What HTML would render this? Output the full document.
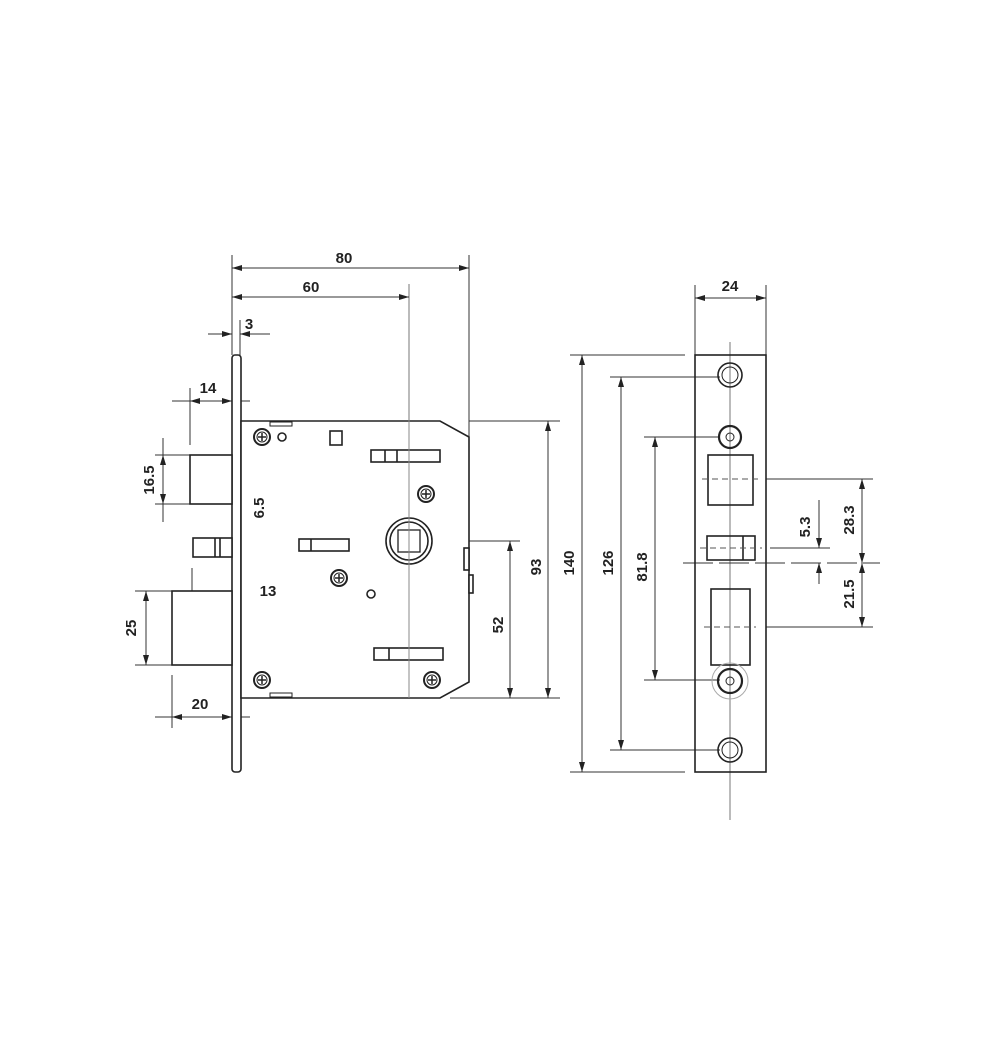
<!DOCTYPE html>
<html><head><meta charset="utf-8"><style>
html,body{margin:0;padding:0;background:#fff}
svg{display:block}
text{font-family:"Liberation Sans",Arial,sans-serif;font-weight:bold;font-size:15px;fill:#222}
</style></head><body>
<svg width="1000" height="1052" viewBox="0 0 1000 1052" xmlns="http://www.w3.org/2000/svg">
<defs>
<marker id="a" viewBox="0 0 10 6" refX="10" refY="3" markerWidth="10" markerHeight="6" orient="auto-start-reverse" markerUnits="userSpaceOnUse"><path d="M0,0L10,3L0,6z" fill="#222"/></marker>
<g id="scr"><circle r="8" fill="#fff" stroke="#222" stroke-width="2"/><circle r="5" fill="none" stroke="#222" stroke-width="1"/><path d="M-4,0H4M0,-4V4" stroke="#222" stroke-width="1.5"/></g>
</defs>
<g stroke="#333" stroke-width="1" fill="none">
<!-- extension lines left view -->
<line x1="232" y1="255" x2="232" y2="355"/>
<line x1="240" y1="320" x2="240" y2="355"/>
<line x1="469" y1="255" x2="469" y2="437"/>
<line x1="409" y1="284" x2="409" y2="698" stroke="#777"/>
<!-- dimension lines -->
<line x1="232" y1="268" x2="469" y2="268" marker-start="url(#a)" marker-end="url(#a)"/>
<line x1="232" y1="297" x2="409" y2="297" marker-start="url(#a)" marker-end="url(#a)"/>
<line x1="208" y1="334" x2="232" y2="334" marker-end="url(#a)"/>
<line x1="270" y1="334" x2="240" y2="334" marker-end="url(#a)"/>
<line x1="172" y1="401" x2="250" y2="401"/>
<line x1="190" y1="401" x2="232" y2="401" marker-start="url(#a)" marker-end="url(#a)"/>
<line x1="190" y1="388" x2="190" y2="445"/>
<line x1="155" y1="455" x2="190" y2="455"/>
<line x1="155" y1="504" x2="190" y2="504"/>
<line x1="163" y1="438" x2="163" y2="522"/>
<line x1="163" y1="455" x2="163" y2="504" marker-start="url(#a)" marker-end="url(#a)"/>
<line x1="232" y1="538" x2="280" y2="538"/>
<line x1="232" y1="557" x2="280" y2="557"/>
<line x1="268" y1="487" x2="268" y2="538" marker-end="url(#a)"/>
<line x1="268" y1="577" x2="268" y2="557" marker-end="url(#a)"/>
<line x1="172" y1="601" x2="280" y2="601"/>
<line x1="192" y1="568" x2="192" y2="612"/>
<line x1="135" y1="591" x2="172" y2="591"/>
<line x1="135" y1="665" x2="172" y2="665"/>
<line x1="146" y1="591" x2="146" y2="665" marker-start="url(#a)" marker-end="url(#a)"/>
<line x1="172" y1="675" x2="172" y2="728"/>
<line x1="155" y1="717" x2="250" y2="717"/>
<line x1="172" y1="717" x2="232" y2="717" marker-start="url(#a)" marker-end="url(#a)"/>
<line x1="469" y1="421" x2="560" y2="421"/>
<line x1="450" y1="698" x2="560" y2="698"/>
<line x1="430" y1="541" x2="520" y2="541"/>
<line x1="548" y1="421" x2="548" y2="698" marker-start="url(#a)" marker-end="url(#a)"/>
<line x1="510" y1="541" x2="510" y2="698" marker-start="url(#a)" marker-end="url(#a)"/>
</g>
<!-- lock body -->
<g stroke="#222" stroke-width="1.6" fill="#fff">
<rect x="232" y="355" width="9" height="417" rx="3"/>
<path d="M241,421H440L469,437V682L440,698H241Z"/>
<rect x="190" y="455" width="42" height="49"/>
<rect x="193" y="538" width="39" height="19"/>
<line x1="215" y1="538" x2="215" y2="557"/><line x1="220" y1="538" x2="220" y2="557"/>
<rect x="172" y="591" width="60" height="74"/>
<rect x="270" y="422" width="22" height="4" stroke-width="1"/>
<rect x="270" y="693" width="22" height="4" stroke-width="1"/>
<rect x="371" y="450" width="69" height="12"/><line x1="385" y1="450" x2="385" y2="462"/><line x1="397" y1="450" x2="397" y2="462"/>
<rect x="299" y="539" width="50" height="12"/><line x1="311" y1="539" x2="311" y2="551"/>
<rect x="374" y="648" width="69" height="12"/><line x1="389" y1="648" x2="389" y2="660"/>
<rect x="330" y="431" width="12" height="14"/>
<rect x="464" y="548" width="5" height="22"/><rect x="469" y="575" width="4" height="18"/>
<circle cx="409" cy="541" r="23"/><circle cx="409" cy="541" r="19"/>
<rect x="398" y="530" width="22" height="22" stroke-width="1.3"/>
<circle cx="282" cy="437" r="4"/><circle cx="371" cy="594" r="4"/>
</g>
<use href="#scr" x="262" y="437"/><use href="#scr" x="426" y="494"/><use href="#scr" x="339" y="578"/>
<use href="#scr" x="262" y="680"/><use href="#scr" x="432" y="680"/>
<line x1="409" y1="420" x2="409" y2="698" stroke="#888" stroke-width="1"/>

<!-- right view -->
<g stroke="#333" stroke-width="1" fill="none">
<line x1="695" y1="285" x2="695" y2="355"/>
<line x1="766" y1="285" x2="766" y2="355"/>
<line x1="695" y1="298" x2="766" y2="298" marker-start="url(#a)" marker-end="url(#a)"/>
<line x1="730" y1="342" x2="730" y2="820" stroke="#777"/>
<line x1="570" y1="355" x2="685" y2="355"/>
<line x1="570" y1="772" x2="685" y2="772"/>
<line x1="582" y1="355" x2="582" y2="772" marker-start="url(#a)" marker-end="url(#a)"/>
<line x1="610" y1="377" x2="720" y2="377"/>
<line x1="610" y1="750" x2="720" y2="750"/>
<line x1="621" y1="377" x2="621" y2="750" marker-start="url(#a)" marker-end="url(#a)"/>
<line x1="644" y1="437" x2="720" y2="437"/>
<line x1="644" y1="680" x2="720" y2="680"/>
<line x1="655" y1="437" x2="655" y2="680" marker-start="url(#a)" marker-end="url(#a)"/>
<line x1="766" y1="479" x2="873" y2="479"/>
<line x1="770" y1="548" x2="830" y2="548"/>
<line x1="683" y1="563" x2="880" y2="563" stroke-dasharray="30,6"/>
<line x1="766" y1="627" x2="873" y2="627"/>
<line x1="862" y1="479" x2="862" y2="563" marker-start="url(#a)" marker-end="url(#a)"/>
<line x1="862" y1="563" x2="862" y2="627" marker-start="url(#a)" marker-end="url(#a)"/>
<line x1="819" y1="500" x2="819" y2="548" marker-end="url(#a)"/>
<line x1="819" y1="584" x2="819" y2="563" marker-end="url(#a)"/>
</g>
<g stroke="#222" stroke-width="1.6" fill="none">
<rect x="695" y="355" width="71" height="417"/>
<rect x="708" y="455" width="45" height="50"/>
<rect x="707" y="536" width="48" height="24"/>
<line x1="743" y1="536" x2="743" y2="560"/>
<rect x="711" y="589" width="39" height="76"/>
<circle cx="730" cy="375" r="12"/><circle cx="730" cy="375" r="8" stroke-width="1"/>
<circle cx="730" cy="437" r="11" stroke-width="2.2"/><circle cx="730" cy="437" r="4" stroke-width="1"/>
<circle cx="730" cy="681" r="18" stroke="#aaa" stroke-width="1"/>
<circle cx="730" cy="681" r="12" stroke-width="2.2"/><circle cx="730" cy="681" r="4" stroke-width="1"/>
<circle cx="730" cy="750" r="12"/><circle cx="730" cy="750" r="8" stroke-width="1"/>
</g>
<g stroke="#555" stroke-width="1" stroke-dasharray="6,4">
<line x1="702" y1="479" x2="760" y2="479"/><line x1="700" y1="548" x2="762" y2="548"/><line x1="704" y1="627" x2="756" y2="627"/>
</g>

<!-- text -->
<text x="344" y="263" text-anchor="middle">80</text>
<text x="311" y="292" text-anchor="middle">60</text>
<text x="249" y="329" text-anchor="middle">3</text>
<text x="208" y="393" text-anchor="middle">14</text>
<text x="268" y="596" text-anchor="middle">13</text>
<text x="200" y="709" text-anchor="middle">20</text>
<text x="730" y="291" text-anchor="middle">24</text>
<text transform="translate(154,480) rotate(-90)" text-anchor="middle">16.5</text>
<text transform="translate(264,508) rotate(-90)" text-anchor="middle">6.5</text>
<text transform="translate(136,628) rotate(-90)" text-anchor="middle">25</text>
<text transform="translate(541,567) rotate(-90)" text-anchor="middle">93</text>
<text transform="translate(503,625) rotate(-90)" text-anchor="middle">52</text>
<text transform="translate(574,563) rotate(-90)" text-anchor="middle">140</text>
<text transform="translate(613,563) rotate(-90)" text-anchor="middle">126</text>
<text transform="translate(647,567) rotate(-90)" text-anchor="middle">81.8</text>
<text transform="translate(854,520) rotate(-90)" text-anchor="middle">28.3</text>
<text transform="translate(810,527) rotate(-90)" text-anchor="middle">5.3</text>
<text transform="translate(854,594) rotate(-90)" text-anchor="middle">21.5</text>
</svg>
</body></html>
